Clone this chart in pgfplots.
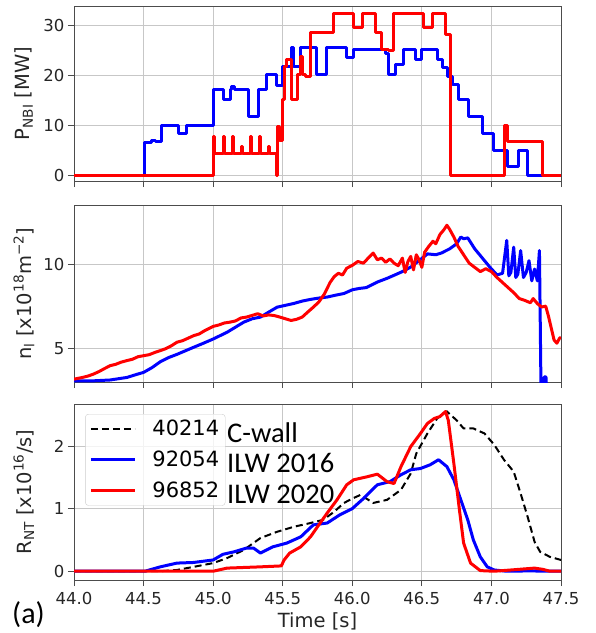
\documentclass[border=0pt]{standalone}
\usepackage{pgfplots}
\pgfplotsset{compat=1.18}
\usepackage{fontspec}
\setmainfont{DejaVu Sans}
\newfontfamily\calib{Carlito}

\pgfplotsset{
  panel/.style={
    scale only axis, width=487bp, xmin=44, xmax=47.5,
    xtick={44,44.5,...,47.5},
    tick pos=left, tick align=outside, major tick length=6bp,
    grid=major, grid style={black!22, line width=0.9bp},
    axis line style={black!70, line width=0.9bp},
    every tick/.style={black!70, line width=0.9bp},
    /pgf/number format/assume math mode=true,
    ticklabel style={font=\fontsize{16.5bp}{19bp}\selectfont, text=black!85},
    xticklabel style={yshift=-3bp},
    label style={font=\fontsize{19.5bp}{22bp}\selectfont, text=black!85},
    ylabel style={at={(axis description cs:-0.103,0.5)}, anchor=center},
    clip=true,
  },
  blue trace/.style={draw={rgb,255:red,0;green,0;blue,255}, line width=3bp, line join=round},
  red trace/.style={draw={rgb,255:red,255;green,0;blue,0}, line width=3bp, line join=round},
}
\tikzset{descr/.style={anchor=west, font=\calib\fontsize{28.5bp}{30bp}\selectfont, inner sep=0pt}}

\begin{document}
\begin{tikzpicture}
\useasboundingbox (0,0) rectangle (596bp,-633bp);

% ---------------- neutral beam power ----------------
\begin{axis}[panel, at={(74bp,-6bp)}, anchor=north west, height=175bp,
  ymin=-1.2, ymax=34, ytick={0,10,20,30}, xticklabels={},
  ylabel={P\textsubscript{NBI} [MW]}]
\addplot[blue trace, const plot] coordinates {
(44.0,0) (44.506,6.6) (44.56,7.0) (44.585,6.7) (44.631,10) (44.751,8.4) (44.811,10)
(45.005,17.2) (45.074,15.1) (45.122,17.3) (45.13,17.8) (45.15,17.2) (45.254,11.8)
(45.326,17.3) (45.386,20.2) (45.458,18.0) (45.501,21.9) (45.566,25.6) (45.578,21.9)
(45.626,25.6) (45.746,20.2) (45.818,25.6) (45.962,23.6) (46.010,25.3) (46.237,24.5)
(46.261,20.2) (46.309,22.2) (46.369,25.3) (46.453,23.2) (46.501,25.3) (46.609,23.2)
(46.645,21.6) (46.681,19.9) (46.717,18.2) (46.765,15.1) (46.837,11.8) (46.933,8.4)
(47.017,5.0) (47.113,1.8) (47.197,5.0) (47.257,0) (47.5,0)};
\addplot[red trace, const plot] coordinates {
(44.0,0) (45.005,7.7) (45.012,4.3) (45.074,7.7) (45.081,4.3) (45.141,7.7) (45.148,4.3)
(45.201,5.8) (45.208,4.3) (45.270,7.7) (45.277,4.3) (45.333,7.7) (45.340,4.3)
(45.398,5.8) (45.405,4.3) (45.453,0) (45.465,9.7) (45.478,7.0) (45.495,15.1)
(45.512,21.9) (45.525,23.2) (45.560,15.1) (45.607,20.2) (45.625,23.9) (45.640,20.2)
(45.662,19.8) (45.703,28.6) (45.866,32.4) (46.010,29.7) (46.070,32.4) (46.165,28.6)
(46.213,25.3) (46.261,25.0) (46.297,32.4) (46.513,29.7) (46.573,32.4) (46.669,28.3)
(46.705,0) (47.096,10.0) (47.112,6.7) (47.365,0) (47.5,0)};
\end{axis}

% ---------------- line-integrated density ----------------
\begin{axis}[panel, at={(74bp,-205bp)}, anchor=north west, height=177bp,
  ymin=3, ymax=13.5, ytick={5,10}, xticklabels={},
  ylabel={n\textsubscript{l} [x10\textsuperscript{18}m\textsuperscript{−2}]}]
\addplot[blue trace] coordinates {
(44.00,3.07) (44.14,3.07) (44.26,3.12) (44.38,3.27) (44.45,3.45) (44.50,3.57)
(44.56,3.85) (44.62,4.20) (44.68,4.45) (44.74,4.64) (44.80,4.85) (44.86,5.06)
(44.93,5.30) (45.00,5.55) (45.05,5.75) (45.10,5.95) (45.16,6.25) (45.22,6.55)
(45.28,6.75) (45.34,6.85) (45.40,7.15) (45.46,7.44) (45.52,7.55) (45.58,7.66)
(45.64,7.80) (45.70,7.90) (45.76,7.98) (45.82,8.04) (45.88,8.15) (45.94,8.25)
(46.00,8.47) (46.05,8.55) (46.10,8.60) (46.18,8.93) (46.25,9.15) (46.30,9.33)
(46.36,9.55) (46.42,9.82) (46.48,10.2) (46.54,10.6) (46.60,10.55) (46.64,10.65)
(46.70,10.9) (46.75,11.2) (46.78,11.6) (46.80,11.5) (46.83,11.55) (46.88,10.9)
(46.94,10.3) (46.99,9.8) (47.04,9.35) (47.08,9.45) (47.11,11.4) (47.125,9.3)
(47.14,9.5) (47.16,11.0) (47.175,9.2) (47.19,9.4) (47.21,10.8) (47.23,9.2)
(47.25,9.5) (47.27,10.2) (47.29,9.0) (47.31,9.7) (47.33,9.0) (47.345,10.8)
(47.35,7.2) (47.357,2.0) (47.38,3.3) (47.392,3.3) (47.40,2.0)};
\addplot[red trace] coordinates {
(44.00,3.17) (44.05,3.25) (44.10,3.35) (44.14,3.47) (44.18,3.62) (44.22,3.80)
(44.26,3.97) (44.30,4.05) (44.34,4.18) (44.38,4.27) (44.42,4.35) (44.46,4.50)
(44.50,4.56) (44.54,4.62) (44.58,4.75) (44.62,4.86) (44.66,4.98) (44.70,5.15)
(44.74,5.36) (44.78,5.45) (44.82,5.60) (44.86,5.75) (44.90,5.85) (44.94,6.05)
(45.00,6.30) (45.04,6.38) (45.08,6.50) (45.12,6.55) (45.16,6.62) (45.20,6.80)
(45.24,6.85) (45.28,6.95) (45.32,7.05) (45.36,6.92) (45.40,6.98) (45.44,6.94)
(45.48,6.85) (45.52,6.75) (45.56,6.65) (45.60,6.72) (45.64,6.85) (45.68,7.15)
(45.72,7.44) (45.76,7.75) (45.80,8.23) (45.84,8.90) (45.87,9.25) (45.90,9.45)
(45.93,9.35) (45.96,9.75) (46.00,9.92) (46.04,10.15) (46.08,10.05) (46.12,10.40)
(46.15,10.65) (46.18,10.25) (46.21,10.35) (46.24,10.10) (46.27,10.30) (46.30,10.05)
(46.33,9.90) (46.36,10.35) (46.38,9.50) (46.40,10.15) (46.42,10.45) (46.44,9.65)
(46.46,10.55) (46.48,10.25) (46.50,9.80) (46.52,10.70) (46.55,11.05) (46.58,11.35)
(46.60,11.20) (46.63,11.75) (46.66,12.05) (46.68,12.30) (46.70,12.05) (46.73,11.60)
(46.76,11.05) (46.80,10.55) (46.84,10.05) (46.88,9.80) (46.92,9.55) (46.96,9.72)
(47.00,9.55) (47.04,9.20) (47.08,8.90) (47.12,8.60) (47.16,8.30) (47.20,7.95)
(47.24,7.84) (47.28,7.70) (47.30,7.95) (47.33,7.65) (47.36,7.45) (47.39,7.50)
(47.41,6.90) (47.43,6.20) (47.45,5.50) (47.47,5.30) (47.49,5.60) (47.50,5.65)};
\end{axis}

% ---------------- neutron rate ----------------
\begin{axis}[panel, at={(74bp,-404bp)}, anchor=north west, height=176bp,
  ymin=-0.14, ymax=2.67, ytick={0,1,2},
  xticklabel style={/pgf/number format/.cd, fixed, fixed zerofill, precision=1},
  xlabel={Time [s]}, xlabel style={yshift=-1bp},
  ylabel={R\textsubscript{NT} [x10\textsuperscript{16}/s]},
  legend style={at={(rel axis cs:0.023,0.943)}, anchor=north west,
    draw=black!20, rounded corners=3bp, fill=white, fill opacity=0.8, text opacity=1,
    nodes={font=\fontsize{21bp}{26bp}\selectfont, inner sep=2bp},
    row sep=10bp, inner sep=4bp, column sep=14bp},
  legend cell align=left,
  legend image code/.code={\draw[#1] (0bp,0bp) -- (44bp,0bp);}]
\addplot[black, line width=2bp, dash pattern=on 7bp off 4bp] coordinates {
(44.00,0) (44.62,0) (44.74,0.02) (44.86,0.07) (45.00,0.13) (45.10,0.21) (45.22,0.34)
(45.34,0.53) (45.46,0.63) (45.58,0.71) (45.70,0.77) (45.79,0.82) (45.87,0.95)
(45.94,1.09) (46.00,1.16) (46.06,1.22) (46.15,1.09) (46.25,1.14) (46.35,1.30)
(46.42,1.56) (46.46,1.88) (46.54,2.20) (46.61,2.44) (46.68,2.55) (46.75,2.41)
(46.80,2.28) (46.87,2.28) (46.95,2.20) (47.02,2.02) (47.09,1.78) (47.16,1.59)
(47.21,1.24) (47.26,0.87) (47.31,0.47) (47.35,0.31) (47.42,0.23) (47.50,0.18)};
\addlegendentry{40214}
\addplot[blue trace] coordinates {
(44.00,0) (44.51,0) (44.62,0.07) (44.74,0.13) (44.86,0.14) (45.00,0.18) (45.07,0.27)
(45.15,0.31) (45.24,0.37) (45.29,0.37) (45.34,0.29) (45.43,0.39) (45.53,0.45)
(45.63,0.55) (45.72,0.74) (45.82,0.77) (45.91,0.90) (46.00,1.00) (46.08,1.16)
(46.18,1.38) (46.27,1.43) (46.35,1.54) (46.42,1.62) (46.49,1.64) (46.56,1.70)
(46.62,1.78) (46.68,1.67) (46.73,1.46) (46.78,1.14) (46.83,0.82) (46.87,0.50)
(46.92,0.23) (46.97,0.07) (47.02,0.02) (47.11,0.0) (47.26,0.005) (47.50,0)};
\addlegendentry{92054}
\addplot[red trace] coordinates {
(44.00,0) (45.00,0) (45.10,0.05) (45.34,0.07) (45.49,0.085) (45.51,0.18) (45.55,0.29)
(45.63,0.39) (45.70,0.55) (45.75,0.71) (45.82,0.93) (45.89,1.14) (45.96,1.38)
(46.01,1.46) (46.11,1.51) (46.18,1.55) (46.25,1.43) (46.30,1.40) (46.35,1.67)
(46.42,1.99) (46.49,2.20) (46.54,2.36) (46.59,2.44) (46.63,2.47) (46.67,2.55)
(46.69,2.41) (46.73,1.72) (46.77,0.98) (46.80,0.45) (46.85,0.13) (46.92,0.01)
(47.02,0) (47.14,0.02) (47.31,0.05) (47.37,0.03) (47.42,0) (47.50,0)};
\addlegendentry{96852}
\node[descr] at (rel axis cs:0.314,0.835) {C-wall};
\node[descr] at (rel axis cs:0.314,0.665) {ILW 2016};
\node[descr] at (rel axis cs:0.314,0.489) {ILW 2020};
\end{axis}

\node[anchor=west, font=\calib\fontsize{30bp}{32bp}\selectfont, inner sep=0pt] at (12bp,-615bp) {(a)};
\end{tikzpicture}
\end{document}
